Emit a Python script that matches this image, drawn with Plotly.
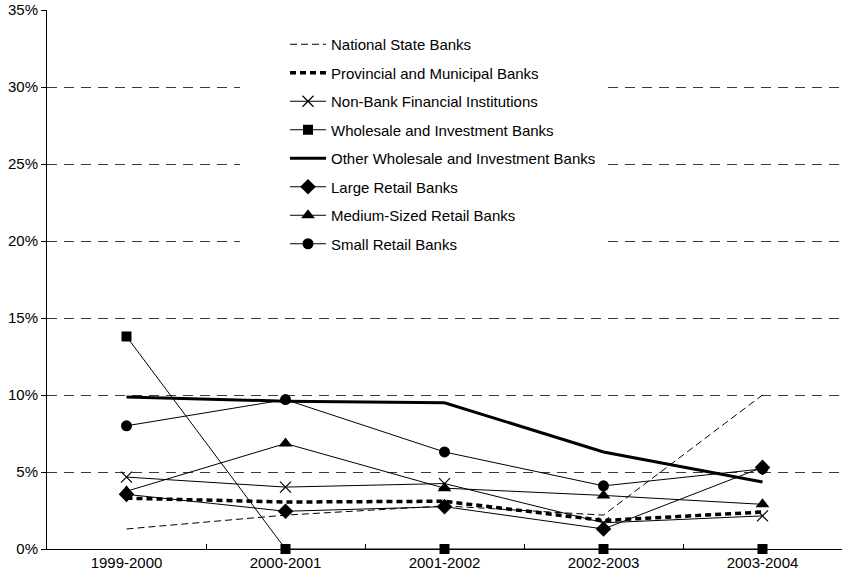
import plotly.graph_objects as go

# Annual change by bank group, percent
periods = ["1999-2000", "2000-2001", "2001-2002", "2002-2003", "2003-2004"]

national_state = [1.3, 2.2, 2.8, 2.2, 10.0]
provincial_municipal = [3.3, 3.05, 3.1, 1.85, 2.4]
non_bank = [4.67, 4.02, 4.25, 1.7, 2.15]
wholesale_investment = [13.8, 0.0, 0.0, 0.0, 0.0]
other_wholesale = [9.87, 9.6, 9.5, 6.3, 4.35]
large_retail = [3.55, 2.45, 2.75, 1.3, 5.3]
medium_retail = [3.75, 6.85, 3.95, 3.48, 2.9]
small_retail = [8.0, 9.7, 6.3, 4.1, 5.2]

y_ticks = [0, 5, 10, 15, 20, 25, 30, 35]
y_tick_text = [f"{v}%" for v in y_ticks]

FONT = "Liberation Sans, Arial, sans-serif"
FONT_SIZE = 15
BLACK = "#000000"

series = [
    ("National State Banks", national_state,
     dict(color=BLACK, width=1, dash="7px,4px"), None),
    ("Provincial and Municipal Banks", provincial_municipal,
     dict(color=BLACK, width=3.5, dash="6px,4px"), None),
    ("Non-Bank Financial Institutions", non_bank,
     dict(color=BLACK, width=1),
     dict(symbol="x-thin-open", size=11, line=dict(color=BLACK, width=1.2))),
    ("Wholesale and Investment Banks", wholesale_investment,
     dict(color=BLACK, width=1),
     dict(symbol="square", size=10, color=BLACK)),
    ("Other Wholesale and Investment Banks", other_wholesale,
     dict(color=BLACK, width=3), None),
    ("Large Retail Banks", large_retail,
     dict(color=BLACK, width=1),
     dict(symbol="diamond", size=12, color=BLACK)),
    ("Medium-Sized Retail Banks", medium_retail,
     dict(color=BLACK, width=1),
     dict(symbol="triangle-up", size=12, color=BLACK)),
    ("Small Retail Banks", small_retail,
     dict(color=BLACK, width=1),
     dict(symbol="circle", size=11, color=BLACK)),
]

fig = go.Figure()
for i, (name, values, line, marker) in enumerate(series):
    fig.add_trace(go.Scatter(
        x=periods,
        y=values,
        name=name,
        mode="lines+markers" if marker else "lines",
        line=line,
        marker=marker,
        legendgroup=f"g{i}",
        cliponaxis=False,
    ))

# white panel behind the legend, hiding the gridlines there
fig.add_shape(
    type="rect", xref="paper", yref="paper",
    x0=(240 - 47) / 795, x1=(605 - 47) / 795,
    y0=(549 - 262) / 539, y1=(549 - 24) / 539,
    fillcolor="white", line=dict(width=0), layer="above",
)

fig.update_layout(
    width=843,
    height=580,
    margin=dict(l=47, r=1, t=10, b=31),
    paper_bgcolor="white",
    plot_bgcolor="white",
    font=dict(family=FONT, size=FONT_SIZE, color=BLACK),
    showlegend=True,
    legend=dict(
        x=(285 - 47) / 795,
        y=(549 - 28) / 539,
        xanchor="left",
        yanchor="top",
        bgcolor="rgba(0,0,0,0)",
        borderwidth=0,
        tracegroupgap=6,
        itemwidth=36,
        font=dict(family=FONT, size=FONT_SIZE, color=BLACK),
    ),
    xaxis=dict(
        type="category",
        range=[-0.5, 4.5],
        showgrid=False,
        showline=True,
        linecolor=BLACK,
        linewidth=1,
        ticks="inside",
        tickson="boundaries",
        ticklen=5,
        tickcolor=BLACK,
        tickfont=dict(family=FONT, size=FONT_SIZE, color=BLACK),
        zeroline=False,
    ),
    yaxis=dict(
        range=[0, 35],
        tickvals=y_ticks,
        ticktext=y_tick_text,
        showgrid=True,
        gridcolor="#3a3a3a",
        gridwidth=1,
        griddash="10px,7px",
        showline=True,
        linecolor=BLACK,
        linewidth=1,
        ticks="outside",
        ticklen=5,
        tickcolor=BLACK,
        tickfont=dict(family=FONT, size=FONT_SIZE, color=BLACK),
        zeroline=False,
    ),
)

fig.write_html("out.html")
